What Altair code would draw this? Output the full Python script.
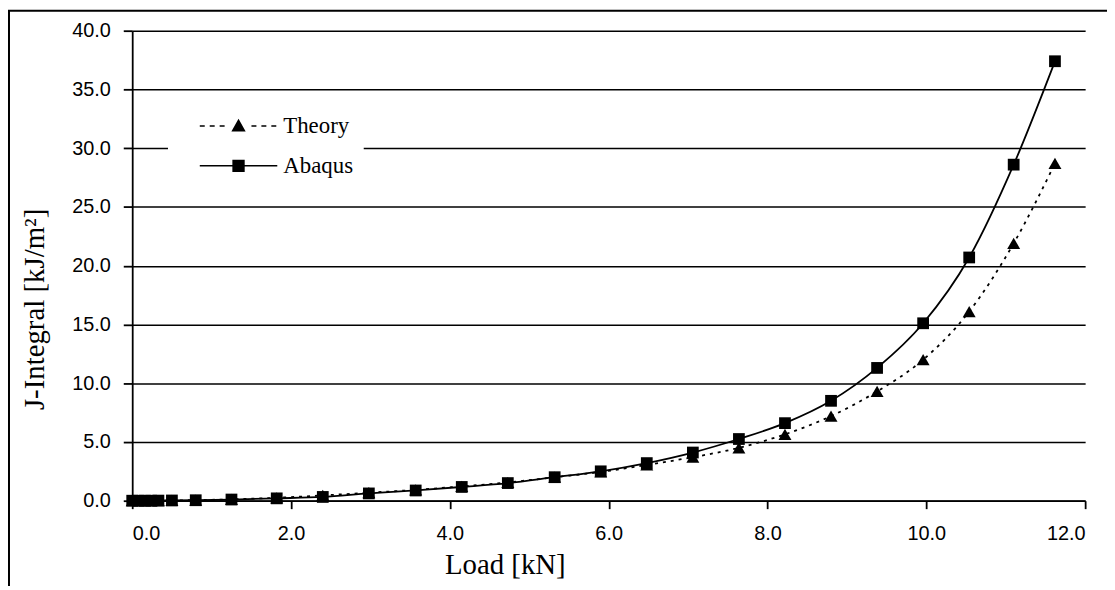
import altair as alt
import pandas as pd

# ---- data ----
loads = [0.0, 0.08, 0.16, 0.24, 0.33, 0.5, 0.8, 1.25, 1.82, 2.4, 2.98, 3.57, 4.15,
         4.73, 5.32, 5.9, 6.48, 7.06, 7.64, 8.22, 8.8, 9.38, 9.96, 10.54, 11.1, 11.62]
theory = [0.0, 0.0, 0.0, 0.0, 0.01, 0.02, 0.05, 0.12, 0.25, 0.45, 0.68, 0.92, 1.22,
          1.55, 2.0, 2.45, 3.05, 3.7, 4.5, 5.65, 7.2, 9.3, 12.0, 16.1, 21.9, 28.7]
abaqus = [0.0, 0.0, 0.0, 0.0, 0.01, 0.02, 0.04, 0.1, 0.2, 0.32, 0.62, 0.87, 1.17,
          1.5, 2.0, 2.5, 3.2, 4.1, 5.25, 6.6, 8.5, 11.3, 15.1, 20.7, 28.6, 37.4]
series_names = ["Theory", "Abaqus"]
x_ticks = [0, 2, 4, 6, 8, 10, 12]
y_ticks = [0, 5, 10, 15, 20, 25, 30, 35, 40]

n = len(loads)
df = pd.DataFrame({
    "load": loads + loads,
    "J": theory + abaqus,
    "series": [series_names[0]] * n + [series_names[1]] * n,
})


# legend symbols (unit = 10 px): a line drawn as thin filled bars, marker in the middle
def bar(x0, x1, h=0.075):
    return f"M{x0:.3f},{-h}H{x1:.3f}V{h}H{x0:.3f}Z"


def dashed(x0, x1, on=0.5, off=0.5):
    parts, x = [], x0
    while x < x1:
        parts.append(bar(x, min(x + on, x1)))
        x += on + off
    return "".join(parts)


path_theory = dashed(-3.9, -1.0) + dashed(1.3, 3.9) + "M0,-0.75L0.72,0.55L-0.72,0.55Z"
path_abaqus = bar(-3.9, 3.9) + "M-0.62,-0.62H0.62V0.62H-0.62Z"

x_enc = alt.X("load:Q", scale=alt.Scale(domain=[0, 12], nice=False),
              axis=alt.Axis(values=x_ticks, format=".1f", title="Load [kN]", grid=False,
                            tickSize=8, labelPadding=15, titleX=375, titleY=50,
                            titleBaseline="top", titleAlign="center"))
y_enc = alt.Y("J:Q", scale=alt.Scale(domain=[0, 40], nice=False),
              axis=alt.Axis(values=y_ticks, format=".1f", title="J-Integral [kJ/m²]",
                            grid=True, tickSize=9, labelPadding=13,
                            titleX=-83, titleY=280, titleAngle=-90,
                            titleBaseline="bottom", titleAlign="center"))

base = alt.Chart(df)

frame = alt.Chart(pd.DataFrame({"f": [0]})).mark_rect(
    fill="transparent", stroke="black", strokeWidth=2
).encode(x=alt.value(-124), x2=alt.value(3000), y=alt.value(-20), y2=alt.value(3000))

line_t = base.transform_filter(alt.datum.series == "Theory").mark_line(
    color="black", strokeWidth=1.8, strokeDash=[3, 5], interpolate="monotone"
).encode(x=x_enc, y=y_enc)
line_a = base.transform_filter(alt.datum.series == "Abaqus").mark_line(
    color="black", strokeWidth=1.8, interpolate="monotone"
).encode(x=x_enc, y=y_enc)

pts_t = base.transform_filter(alt.datum.series == "Theory").mark_point(
    shape="triangle-up", filled=True, color="black", size=170, opacity=1
).encode(x=x_enc, y=y_enc)
pts_a = base.transform_filter(alt.datum.series == "Abaqus").mark_point(
    shape="square", filled=True, color="black", size=140, opacity=1
).encode(x=x_enc, y=y_enc)

leg = alt.Legend(
    orient="none", legendX=36, legendY=74.5, title=None, fillColor="white",
    padding=10, labelFont="Liberation Serif", labelFontSize=23, labelColor="black",
    labelOffset=33.5, symbolOffset=49.5, rowPadding=16,
    symbolFillColor="black", symbolStrokeColor="black",
    symbolStrokeWidth=0, symbolSize=400, symbolOpacity=1,
)
legend_layer = base.transform_filter("false").mark_point(
    filled=True, color="black", size=400, opacity=1
).encode(
    shape=alt.Shape("series:N", scale=alt.Scale(domain=series_names,
                                                range=[path_theory, path_abaqus]),
                    legend=leg),
)

chart = alt.layer(frame, line_t, line_a, pts_t, pts_a, legend_layer).properties(
    width=959, height=473,
    padding={"left": 125, "top": 21, "right": 22, "bottom": 84},
    autosize=alt.AutoSizeParams(type="none"),
    background="white",
).configure_view(stroke=None).configure_axis(
    domainColor="black", domainWidth=1.8, tickColor="black", tickWidth=1.8,
    labelFont="Liberation Sans", labelFontSize=20, labelColor="black",
    titleFont="Liberation Serif", titleFontSize=29, titleFontWeight="normal",
    titleColor="black", gridColor="black", gridWidth=1.6, gridOpacity=1,
)

chart.save("out.html", embed_options={"renderer": "svg", "actions": False})
